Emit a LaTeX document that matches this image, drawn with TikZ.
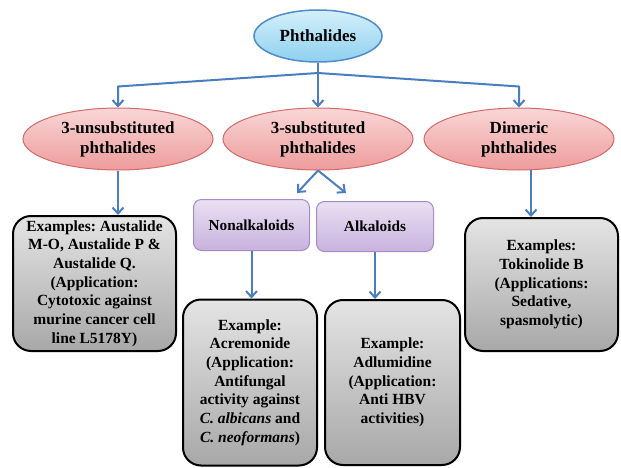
\documentclass[tikz,border=0pt]{standalone}
\usepackage{fontspec}
\setmainfont{Liberation Serif}
\frenchspacing
\usetikzlibrary{shapes.geometric,arrows.meta}
\definecolor{arrowblue}{HTML}{4A7EC0}
\definecolor{blueedge}{HTML}{4F8CC9}
\definecolor{bluetop}{HTML}{D4F0FB}
\definecolor{bluebot}{HTML}{8ED0EF}
\definecolor{pinkedge}{HTML}{D46A6A}
\definecolor{pinktop}{HTML}{F9D6D6}
\definecolor{pinkbot}{HTML}{EE9C9C}
\definecolor{purpedge}{HTML}{A68BC6}
\definecolor{purptop}{HTML}{EAE0F3}
\definecolor{purpbot}{HTML}{C8B2DE}
\definecolor{graytop}{HTML}{E4E4E4}
\definecolor{graybot}{HTML}{A8A8A8}
\begin{document}
\begin{tikzpicture}[x=1pt,y=-1pt,
  conn/.style={draw=arrowblue, line width=2pt, line join=round},
  arr/.style={conn, -{Straight Barb[length=6pt,width=11pt,line width=2pt]}},
  topell/.style={ellipse, draw=blueedge, line width=1.5pt, top color=bluetop, bottom color=bluebot,
    minimum width=128pt, minimum height=52pt, inner sep=0pt, font=\fontsize{17}{20}\selectfont\bfseries},
  pinkell/.style={ellipse, draw=pinkedge, line width=1pt, top color=pinktop, bottom color=pinkbot,
    minimum width=190pt, minimum height=62pt, inner sep=0pt, align=center, font=\fontsize{17}{20}\selectfont\bfseries},
  pbox/.style={rectangle, rounded corners=8pt, draw=purpedge, line width=1pt, top color=purptop, bottom color=purpbot,
    inner sep=0pt, font=\fontsize{15.3}{18}\selectfont\bfseries},
  gbox/.style={rectangle, rounded corners=18pt, draw=black, line width=2pt, top color=graytop, bottom color=graybot,
    inner sep=0pt, align=center, font=\fontsize{15.5}{18.7}\selectfont\bfseries}
]
\useasboundingbox (0,0) rectangle (621,468);
\fill[white] (0,0) rectangle (621,468);
% nodes
\node[topell] (ph) at (318,36) {Phthalides};
\node[pinkell] (un) at (118,139) {3-unsubstituted\\phthalides};
\node[pinkell] (su) at (318,139) {3-substituted\\phthalides};
\node[pinkell] (di) at (519,139) {Dimeric\\phthalides};
\node[pbox, minimum width=116pt, minimum height=51pt] (na) at (251.5,225) {Nonalkaloids};
\node[pbox, minimum width=117pt, minimum height=50pt] (al) at (375,226.5) {Alkaloids};
\node[gbox, minimum width=163pt, minimum height=135pt] (ex1) at (94.5,283.5)
  {Examples: Austalide\\M-O, Austalide P \&\\Austalide Q.\\(Application:\\Cytotoxic against\\murine cancer cell\\line L5178Y)};
\node[gbox, minimum width=134pt, minimum height=166pt] (ex2) at (250,382.5)
  {Example:\\Acremonide\\(Application:\\Antifungal\\activity against\\\textit{C. albicans} and\\\textit{C. neoformans})};
\node[gbox, minimum width=135pt, minimum height=165pt] (ex3) at (392.5,382.5)
  {Example:\\Adlumidine\\(Application:\\Anti HBV\\activities)};
\node[gbox, minimum width=153pt, minimum height=133pt] (ex4) at (541.5,284.5)
  {Examples:\\Tokinolide B\\(Applications:\\Sedative,\\spasmolytic)};
% connectors
\coordinate (j) at (318,73);
\coordinate (jl) at (118,86.5);
\coordinate (jr) at (519,86.5);
\draw[conn] (ph.south) -- (j);
\draw[arr] (j) -- (su.north);
\draw[arr] (j) -- (jl) -- (un.north);
\draw[arr] (j) -- (jr) -- (di.north);
\draw[arr] (un.south) -- (un.south |- ex1.north);
\coordinate (sl) at (297,193);
\coordinate (sr) at (346,193);
\draw[arr] (su.south) -- (sl);
\draw[arr] (su.south) -- (sr);
\draw[arr] (na.south) -- (na.south |- ex2.north);
\draw[arr] (al.south) -- (al.south |- ex3.north);
\coordinate (dd) at (531,169.5);
\draw[arr] (dd) -- (dd |- ex4.north);
\end{tikzpicture}
\end{document}
